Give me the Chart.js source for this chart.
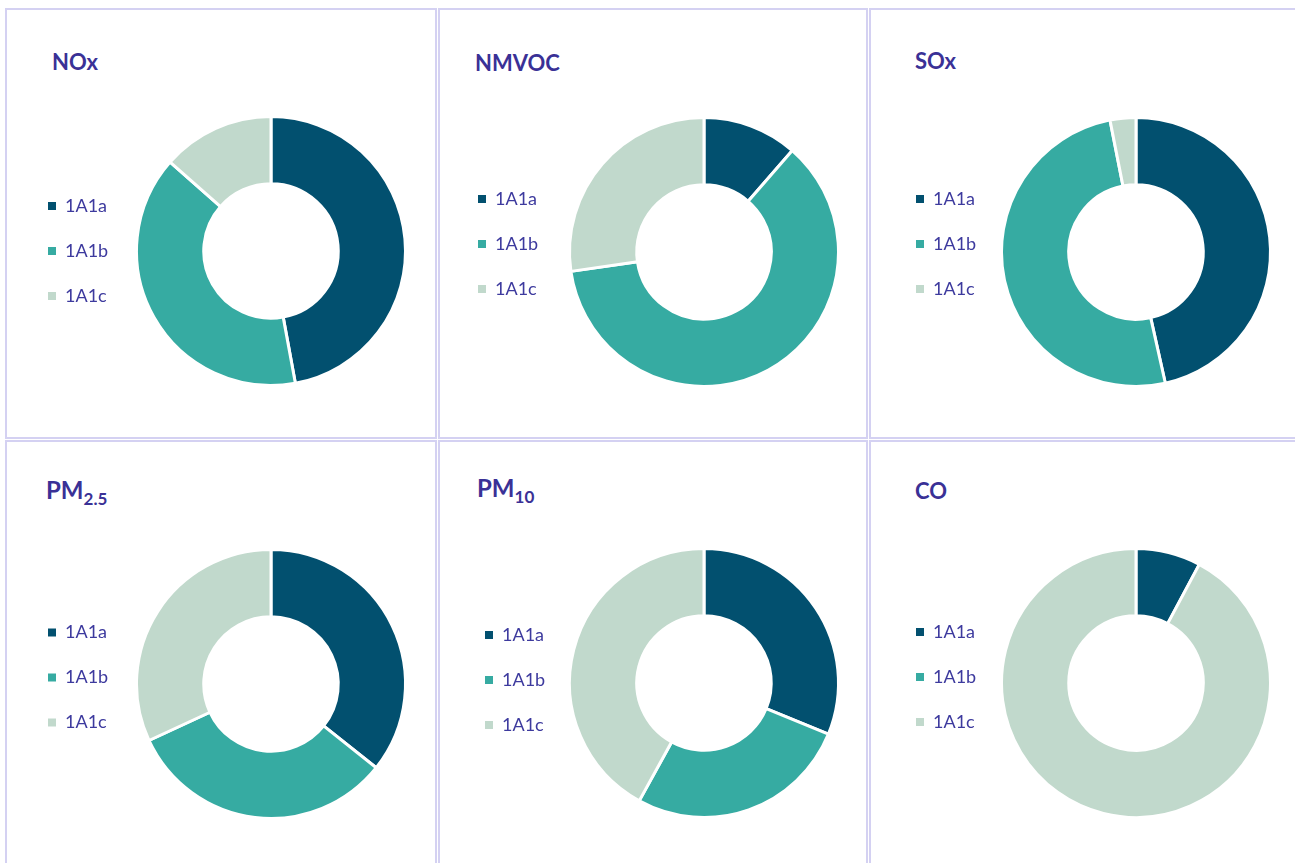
<!DOCTYPE html>
<html>
<head>
<meta charset="utf-8">
<script src="https://cdn.jsdelivr.net/npm/chart.js@4.4.1/dist/chart.umd.min.js"></script>
<style>
  html, body { margin: 0; padding: 0; background: #fff; }
  body { width: 1295px; height: 863px; overflow: hidden; position: relative; font-family: Lato, "Open Sans", sans-serif; }
  .cell { position: absolute; box-sizing: border-box; border: 2px solid #d4d1f2; }
  .title { position: absolute; font-weight: bold; color: #3a3196; line-height: 1; white-space: nowrap; }
  .title sub { font-size: 17px; vertical-align: -6px; line-height: 1; }
  canvas { position: absolute; }
</style>
</head>
<body>
<script>
const categories = ['1A1a', '1A1b', '1A1c'];
const pollutants = ['NOx', 'NMVOC', 'SOx', 'PM2.5', 'PM10', 'CO'];
const share1A1a = [47.1, 11.4, 46.5, 35.7, 31.2, 7.8];
const share1A1b = [39.4, 61.3, 50.4, 32.4, 26.8, 0];
const share1A1c = [13.5, 27.3, 3.1, 31.9, 42.0, 92.2];

const colors = ['#02506f', '#36aba2', '#c1d9cc'];

// frames of the 2x3 grid
const cells = [
  {x: 5, y: 8, w: 432, h: 431}, {x: 438, y: 8, w: 430, h: 431}, {x: 869, y: 8, w: 440, h: 431},
  {x: 5, y: 440, w: 432, h: 440}, {x: 438, y: 440, w: 430, h: 440}, {x: 869, y: 440, w: 440, h: 440}
];

// title anchor, legend left edge, donut centre, legend lift
const panels = [
  {tx: 52, tb: 71, ts: 22, lx: 48, cx: 271, cy: 251, lift: 0},
  {tx: 475, tb: 72, ts: 22, lx: 478, cx: 704, cy: 252, lift: -8},
  {tx: 915, tb: 70, ts: 22, lx: 916, cx: 1136, cy: 252, lift: -8},
  {tx: 46, tb: 499, ts: 24, lx: 48, cx: 271, cy: 683.5, lift: -6.5},
  {tx: 477, tb: 497, ts: 24, lx: 485, cx: 704, cy: 683.3, lift: -3},
  {tx: 915, tb: 500, ts: 22, lx: 916, cx: 1136, cy: 683.3, lift: -6}
];

const legendPad = 27;
const legendWidth = 90;
const chartHeight = 272;

cells.forEach(c => {
  const d = document.createElement('div');
  d.className = 'cell';
  Object.assign(d.style, {left: c.x + 'px', top: c.y + 'px', width: c.w + 'px', height: c.h + 'px'});
  document.body.appendChild(d);
});

pollutants.forEach((name, i) => {
  const p = panels[i];

  const t = document.createElement('div');
  t.className = 'title';
  t.innerHTML = name.replace(/^PM(.+)$/, 'PM<sub>$1</sub>');
  t.style.fontSize = p.ts + 'px';
  t.style.left = p.tx + 'px';
  t.style.top = (p.tb - 0.887 * p.ts) + 'px';
  document.body.appendChild(t);

  const left = p.lx - legendPad;
  const chartLeft = left + legendWidth;
  const width = legendWidth + 2 * (p.cx - chartLeft);
  const canvas = document.createElement('canvas');
  canvas.width = width;
  canvas.height = chartHeight;
  canvas.style.left = left + 'px';
  canvas.style.top = (p.cy - chartHeight / 2) + 'px';
  document.body.appendChild(canvas);

  new Chart(canvas, {
    type: 'doughnut',
    data: {
      labels: categories,
      datasets: [{
        data: [share1A1a[i], share1A1b[i], share1A1c[i]],
        backgroundColor: colors,
        borderColor: '#ffffff',
        borderWidth: 3,
        hoverOffset: 0
      }]
    },
    options: {
      responsive: false,
      animation: false,
      cutout: '50%',
      plugins: {
        tooltip: { enabled: false },
        legend: {
          position: 'left',
          maxWidth: legendWidth,
          title: { display: true, text: '', font: { size: 1, lineHeight: 1 }, padding: { top: 0, bottom: 2 * p.lift - 1 } },
          labels: {
            boxWidth: 8,
            boxHeight: 8,
            padding: legendPad,
            color: '#3d3a9e',
            font: { family: 'Lato', size: 18 },
            generateLabels: chart =>
              Chart.overrides.doughnut.plugins.legend.labels.generateLabels(chart)
                .map(item => ({ ...item, lineWidth: 0 }))
          }
        }
      }
    }
  });
});
</script>
</body>
</html>
